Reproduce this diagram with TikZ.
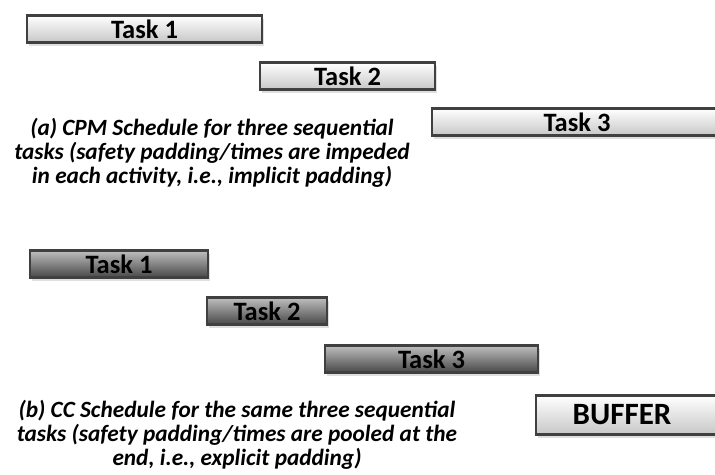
\documentclass[tikz,border=0pt]{standalone}
\usepackage{fontspec}
\setmainfont{Carlito}
\usetikzlibrary{shadows}
\tikzset{
  lighttask/.style={draw=black!75, line width=2.8pt, top color=white, bottom color=black!22,
     font=\bfseries\fontsize{26.5}{28}\selectfont, inner sep=0pt,
     drop shadow={opacity=0.25, shadow xshift=2pt, shadow yshift=-3pt}},
  darktask/.style={draw=black!75, line width=2.8pt, top color=black!25, bottom color=black!72,
     font=\bfseries\fontsize{26.5}{28}\selectfont, inner sep=0pt,
     drop shadow={opacity=0.25, shadow xshift=2pt, shadow yshift=-3pt}},
  caption/.style={font=\bfseries\itshape\fontsize{23.3}{24}\selectfont, align=center, inner sep=0pt}
}
\begin{document}
\begin{tikzpicture}[x=1pt,y=-1pt]
\useasboundingbox (0,0) rectangle (715,474);
\fill[white] (0,0) rectangle (715,474);
\begin{scope}
\clip (0,0) rectangle (715,474);
% (a) CPM
\node[lighttask, minimum width=235pt, minimum height=27pt] (a1) at (144.5,29) {Task 1};
\node[lighttask, minimum width=175pt, minimum height=27pt] (a2) at (347.5,76) {Task 2};
\node[lighttask, minimum width=290pt, minimum height=27pt] (a3) at (577,122) {Task 3};
\node[caption] (capa) at (212,153) {(a) CPM Schedule for three sequential\\tasks (safety padding/times are impeded\\in each activity, i.e., implicit padding)};
% (b) CC
\node[darktask, minimum width=178pt, minimum height=27pt] (b1) at (119,264) {Task 1};
\node[darktask, minimum width=120pt, minimum height=27pt] (b2) at (267,311) {Task 2};
\node[darktask, minimum width=213pt, minimum height=27pt] (b3) at (431.5,359) {Task 3};
\node[lighttask, minimum width=190pt, minimum height=39pt] (buf) at (631,415) {};
\node[font=\bfseries\fontsize{31}{34}\selectfont, inner sep=0pt] (buftext) at (622,415) {BUFFER};
\node[caption] (capb) at (237,435) {(b) CC Schedule for the same three sequential\\tasks (safety padding/times are pooled at the\\end, i.e., explicit padding)};
\end{scope}
\end{tikzpicture}
\end{document}
